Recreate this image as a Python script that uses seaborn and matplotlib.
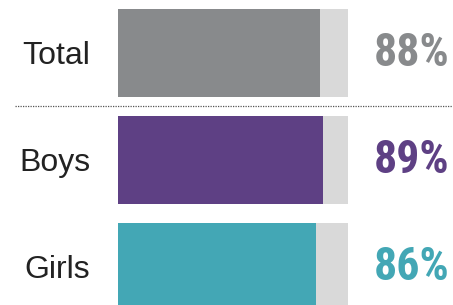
import matplotlib
matplotlib.use("Agg")
import matplotlib.pyplot as plt
from matplotlib import font_manager
import seaborn as sns
import pandas as pd

categories = ["Total", "Boys", "Girls"]
values = [88, 89, 86]
full = [100, 100, 100]
bar_colors = ["#888a8c", "#5e4084", "#43a7b5"]
bg_color = "#d9d9d9"

df = pd.DataFrame({"category": categories, "value": values, "full": full})

sns.set_theme(style="white")
plt.rcParams["font.family"] = ["Liberation Sans", "DejaVu Sans"]

# pick a condensed family if one is installed
names = {f.name for f in font_manager.fontManager.ttflist}
cond = None
for cand in ["Roboto Condensed", "Liberation Sans Narrow", "DejaVu Sans Condensed",
             "Open Sans Condensed"]:
    if cand in names:
        cond = cand
        break
if cond is not None:
    pct_family = [cond, "DejaVu Sans"]
    pct_size = 33
else:
    pct_family = ["Liberation Sans", "DejaVu Sans"]
    pct_size = 27.5

fig = plt.figure(figsize=(4.53, 3.05), dpi=100)
ax = fig.add_axes([0, 0, 1, 1])

sns.barplot(data=df, x="full", y="category", orient="h", color=bg_color,
            width=0.822, ax=ax, saturation=1, linewidth=0)
sns.barplot(data=df, x="value", y="category", orient="h", hue="category",
            palette=dict(zip(categories, bar_colors)), legend=False,
            width=0.822, ax=ax, saturation=1, linewidth=0)

ax.set_xlim(-51.3, 145.65)
ax.set_ylim(2.355, -0.495)
ax.axis("off")

for i, (cat, val, col) in enumerate(zip(categories, values, bar_colors)):
    ax.text(-12.0, i + 0.03, cat, ha="right", va="center", fontsize=23, color="#222222")
    ax.text(144.0, i + 0.0, f"{val}%", ha="right", va="center", fontsize=pct_size,
            fontweight="bold", color=col, family=pct_family)

ax.plot([-44.8, 145.65], [0.495, 0.495], linestyle=(0, (1, 1)), color="#555555",
        linewidth=0.9)

fig.savefig("out.png", dpi=100)
